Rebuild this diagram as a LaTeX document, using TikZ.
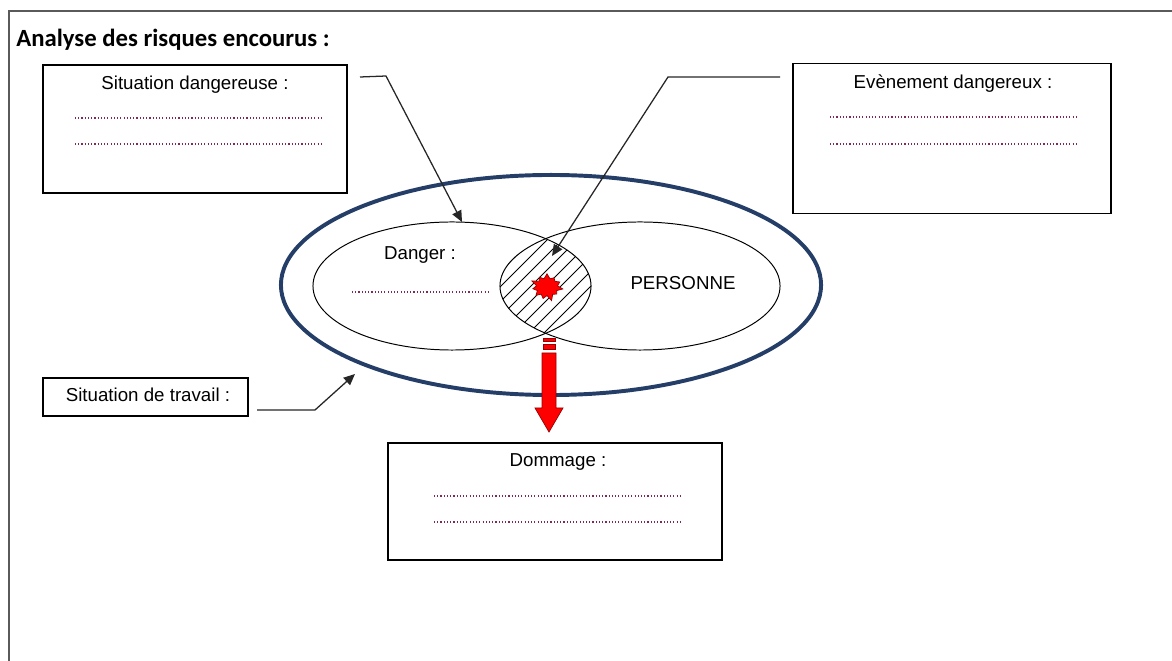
\documentclass[tikz,border=0pt]{standalone}
\usepackage{fontspec}
\setmainfont{Liberation Sans}
\newfontfamily\titlefont{Carlito}
\usetikzlibrary{arrows.meta,shapes.geometric,shapes.symbols}

\definecolor{cadre}{RGB}{90,90,90}
\definecolor{bleufonce}{RGB}{36,62,104}
\definecolor{pointille}{RGB}{128,40,90}
\definecolor{rougefonce}{RGB}{150,0,0}

\tikzset{
  boite/.style={draw, line width=1pt, inner sep=0pt, outer sep=0pt},
  zone/.style={draw, ellipse, line width=0.7pt, inner sep=0pt, outer sep=0pt},
  lien/.style={line width=0.9pt, black!85, -{Triangle[length=8pt,width=7pt]}},
  pointilles/.style={pointille, line width=0.9pt, dash pattern=on 0.8pt off 1.5pt},
  etiq/.style={anchor=base, inner sep=0pt, font=\fontsize{13.3}{16}\selectfont},
}

\begin{document}
\begin{tikzpicture}[x=0.025cm,y=-0.025cm]
\useasboundingbox (0,0) rectangle (1172,661);
% cadre et titre
\draw[cadre, line width=1pt] (9,661) -- (9,11) -- (1172,11);
\node[anchor=base west, inner sep=0pt, font=\titlefont\bfseries\fontsize{17.6}{20}\selectfont] (titre) at (16,47) {Analyse des risques encourus :};

% situation de travail (grande ellipse)
\node[zone, draw=bleufonce, line width=2.8pt, minimum width=13.5cm, minimum height=5.5cm] (travail) at (551,285) {};

% hachures de l'intersection
\begin{scope}
\clip (452,286) ellipse [x radius=3.475cm, y radius=1.6cm];
\clip (640,286) ellipse [x radius=3.5cm, y radius=1.6cm];
\foreach \k in {-7,...,7}
  \draw[line width=0.6pt] (546+\k*15-90,286+90) -- (546+\k*15+90,286-90);
\end{scope}

% danger et personne
\node[zone, minimum width=6.95cm, minimum height=3.2cm] (danger) at (452,286) {};
\node[zone, minimum width=7cm, minimum height=3.2cm] (personne) at (640,286) {};
\node[etiq] (danger-txt) at (420,260) {Danger :};
\draw[pointilles] (352,292) -- (488,292);
\node[etiq] (personne-txt) at (683,290) {PERSONNE};

% evenement
\node[starburst, fill=red, draw=rougefonce, line width=0.5pt, starburst points=11, starburst point height=0.16cm, minimum width=0.85cm, minimum height=0.75cm, inner sep=0pt] (etincelle) at (547,287) {};

% situation dangereuse
\node[boite, minimum width=7.6cm, minimum height=3.2cm] (sitdang) at (195,129) {};
\node[etiq] (sitdang-txt) at (195,90) {Situation dangereuse :};
\draw[pointilles] (75,118) -- (322,118);
\draw[pointilles] (75,144) -- (322,144);
\coordinate (sitdang-a) at (360,77);
\coordinate (sitdang-b) at (386,76);
\draw[lien] (sitdang-a) -- (sitdang-b) -- ([xshift=0.25cm]danger.north);

% evenement dangereux
\node[boite, minimum width=7.95cm, minimum height=3.75cm] (evt) at (952,138.5) {};
\node[etiq] (evt-txt) at (953,89) {Evènement dangereux :};
\draw[pointilles] (830,117) -- (1077,117);
\draw[pointilles] (830,144) -- (1077,144);
\coordinate (evt-a) at (780,77);
\coordinate (evt-b) at (668,77);
\coordinate (evt-c) at (552,256);
\draw[lien] (evt-a) -- (evt-b) -- (evt-c);

% situation de travail
\node[boite, minimum width=5.125cm, minimum height=0.95cm] (travail-box) at (145.5,397) {};
\node[etiq] (travail-txt) at (148,402) {Situation de travail :};
\coordinate (travail-a) at (257,410);
\coordinate (travail-b) at (315,410);
\coordinate (travail-c) at (355,374);
\draw[lien] (travail-a) -- (travail-b) -- (travail-c);

% fleche vers le dommage
\filldraw[fill=red, draw=rougefonce, line width=0.5pt] (543,338) rectangle (555,341);
\filldraw[fill=red, draw=rougefonce, line width=0.5pt] (543,344) rectangle (555,349);
\filldraw[fill=red, draw=rougefonce, line width=0.5pt] (542,353) -- (556,353) -- (556,408) -- (563,408) -- (549,432) -- (535,408) -- (542,408) -- cycle;

% dommage
\node[boite, minimum width=8.35cm, minimum height=2.925cm] (dommage) at (555,501.5) {};
\node[etiq] (dommage-txt) at (558,467) {Dommage :};
\draw[pointilles] (434,496) -- (682,496);
\draw[pointilles] (434,522) -- (682,522);
\end{tikzpicture}
\end{document}
